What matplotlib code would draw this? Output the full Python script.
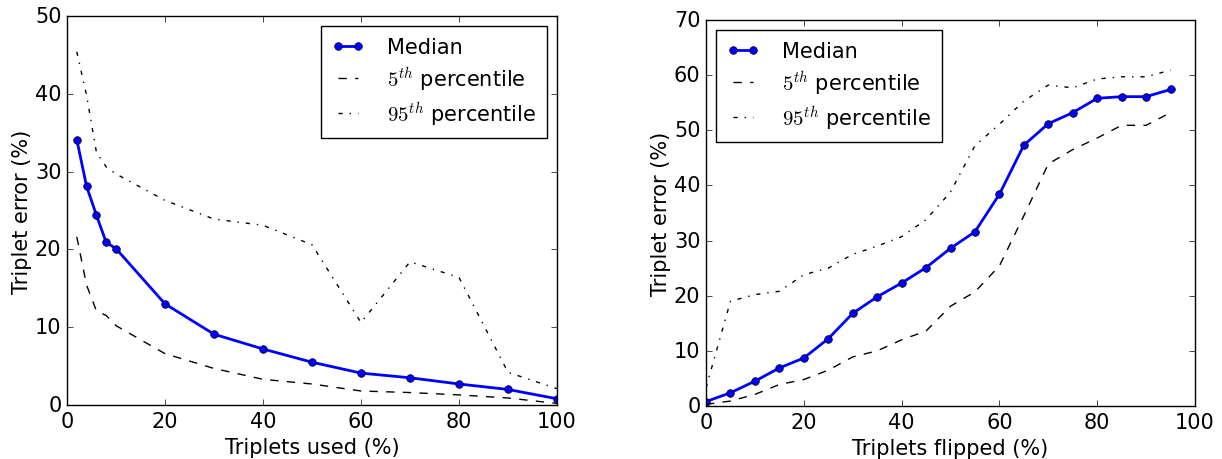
import numpy as np
import matplotlib
matplotlib.use('Agg')
import matplotlib.pyplot as plt

# left panel: triplets used
used_x = [2, 4, 6, 8, 10, 20, 30, 40, 50, 60, 70, 80, 90, 100]
used_median = [34.1, 28.1, 24.4, 20.9, 20.1, 13.0, 9.1, 7.2, 5.5, 4.1, 3.5, 2.7, 2.0, 0.8]
used_p5 = [21.6, 15.4, 12.1, 11.5, 10.2, 6.6, 4.7, 3.3, 2.7, 1.8, 1.6, 1.3, 0.9, 0.2]
used_p95 = [45.4, 39.8, 32.5, 30.6, 29.7, 26.3, 23.9, 23.1, 20.6, 10.6, 18.4, 16.4, 4.2, 2.1]

# right panel: triplets flipped
flip_x = [0, 5, 10, 15, 20, 25, 30, 35, 40, 45, 50, 55, 60, 65, 70, 75, 80, 85, 90, 95]
flip_median = [0.8, 2.4, 4.5, 6.9, 8.7, 12.2, 16.8, 19.8, 22.3, 25.1, 28.6, 31.6, 38.4, 47.3,
               51.2, 53.2, 55.8, 56.1, 56.1, 57.4]
flip_p5 = [0.3, 0.9, 2.1, 3.9, 4.8, 6.5, 8.9, 10.0, 12.0, 13.6, 18.1, 20.7, 25.4, 34.5,
           43.9, 46.5, 48.6, 50.9, 50.9, 53.2]
flip_p95 = [3.3, 19.0, 20.2, 20.8, 23.8, 25.0, 27.5, 29.0, 30.7, 33.8, 38.8, 47.2, 51.1, 55.3,
            58.2, 57.7, 59.3, 59.7, 59.7, 60.9]

plt.style.use('classic')
plt.rcParams['figure.facecolor'] = 'white'
plt.rcParams['savefig.facecolor'] = 'white'
plt.rcParams['font.family'] = ['DejaVu Sans']
plt.rcParams['font.size'] = 15
plt.rcParams['legend.fontsize'] = 15
plt.rcParams['xtick.labelsize'] = 15
plt.rcParams['ytick.labelsize'] = 15

fig = plt.figure(figsize=(12.22, 4.6), dpi=100)
ax1 = fig.add_axes([67/1222, 1 - 406/460, 490/1222, 389/460])
ax2 = fig.add_axes([706/1222, 1 - 407/460, 489/1222, 386/460])

labels = ['Median', '$5^{th}$ percentile', '$95^{th}$ percentile']
leg_kw = dict(numpoints=2, handlelength=1.55, handletextpad=1.1, borderpad=0.5,
              labelspacing=0.35, borderaxespad=0.5)

ax1.plot(used_x, used_median, 'b-', marker='o', markersize=5.5, lw=2, label=labels[0])
ax1.plot(used_x, used_p5, 'k--', lw=1, label=labels[1])
ax1.plot(used_x, used_p95, 'k-.', lw=1, label=labels[2])
ax1.set_xlim(0, 100)
ax1.set_ylim(0, 50)
ax1.set_xlabel('Triplets used (%)')
ax1.set_ylabel('Triplet error (%)', labelpad=2)
ax1.legend(loc='upper right', **leg_kw)

ax2.plot(flip_x, flip_median, 'b-', marker='o', markersize=5.5, lw=2, label=labels[0])
ax2.plot(flip_x, flip_p5, 'k--', lw=1, label=labels[1])
ax2.plot(flip_x, flip_p95, 'k-.', lw=1, label=labels[2])
ax2.set_xlim(0, 100)
ax2.set_ylim(0, 70)
ax2.set_xlabel('Triplets flipped (%)')
ax2.set_ylabel('Triplet error (%)', labelpad=2)
ax2.legend(loc='upper left', **leg_kw)

fig.savefig('out.png', dpi=100)
